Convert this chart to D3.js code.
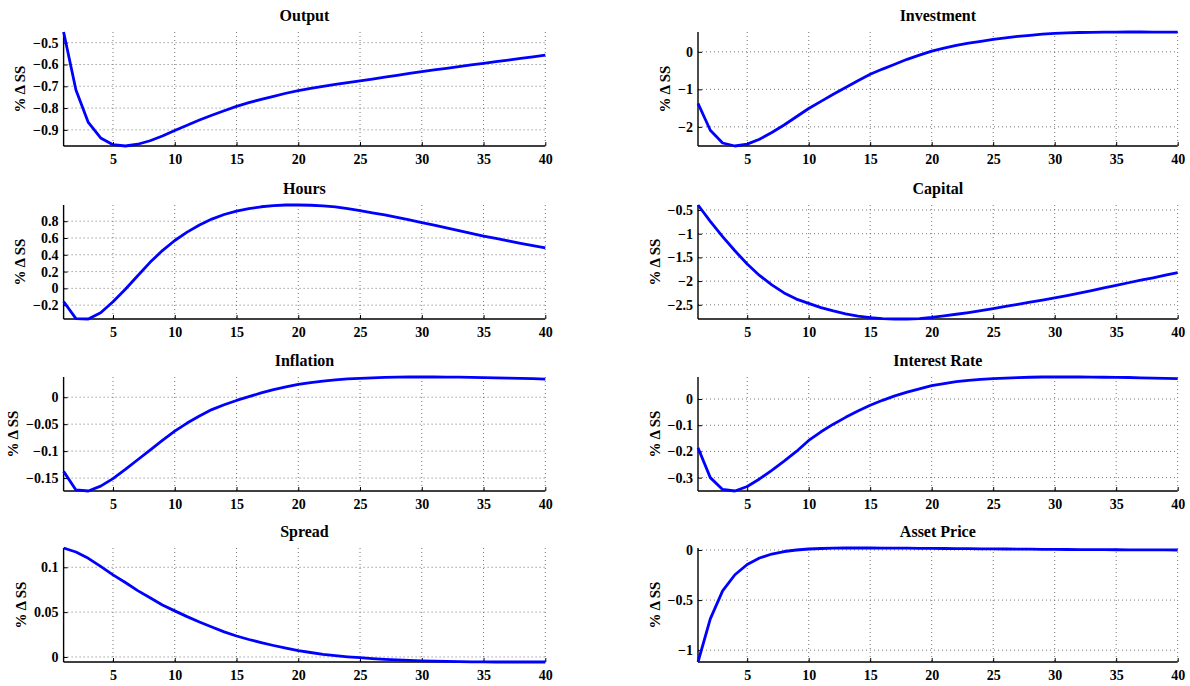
<!DOCTYPE html>
<html><head><meta charset="utf-8">
<script src="https://cdn.jsdelivr.net/npm/d3@7"></script>
<style>
body{margin:0;background:#fff;}
text{font-family:"Liberation Serif","Times New Roman",serif;font-weight:bold;fill:#000;}
</style></head>
<body><svg id="c" width="1190" height="686"></svg>
<script>
const periods = d3.range(1, 41);
const xTicks = [5, 10, 15, 20, 25, 30, 35, 40];

const output = [-0.451,-0.717,-0.866,-0.937,-0.968,-0.974,-0.966,-0.950,-0.928,-0.903,-0.879,-0.855,-0.833,-0.812,-0.792,-0.775,-0.760,-0.746,-0.732,-0.720,-0.710,-0.700,-0.691,-0.683,-0.675,-0.667,-0.658,-0.650,-0.641,-0.633,-0.625,-0.618,-0.610,-0.602,-0.595,-0.587,-0.580,-0.572,-0.565,-0.557];
const investment = [-1.375,-2.09,-2.43,-2.51,-2.46,-2.33,-2.15,-1.95,-1.73,-1.51,-1.32,-1.13,-0.95,-0.77,-0.60,-0.46,-0.33,-0.20,-0.09,0.02,0.10,0.17,0.23,0.28,0.33,0.37,0.41,0.44,0.47,0.49,0.505,0.515,0.52,0.525,0.527,0.528,0.528,0.527,0.527,0.526];
const hours = [-0.157,-0.36,-0.365,-0.29,-0.16,-0.01,0.15,0.31,0.45,0.57,0.67,0.755,0.825,0.88,0.92,0.95,0.972,0.986,0.993,0.993,0.99,0.983,0.97,0.95,0.925,0.90,0.874,0.845,0.815,0.784,0.752,0.72,0.687,0.655,0.623,0.594,0.565,0.537,0.51,0.483];
const capital = [-0.394,-0.74,-1.06,-1.36,-1.64,-1.88,-2.08,-2.25,-2.38,-2.47,-2.56,-2.63,-2.69,-2.74,-2.77,-2.79,-2.80,-2.80,-2.79,-2.766,-2.735,-2.70,-2.665,-2.625,-2.58,-2.535,-2.49,-2.445,-2.40,-2.355,-2.305,-2.255,-2.20,-2.145,-2.09,-2.035,-1.98,-1.93,-1.875,-1.82];
const inflation = [-0.1376,-0.172,-0.174,-0.165,-0.151,-0.134,-0.116,-0.098,-0.080,-0.063,-0.048,-0.035,-0.023,-0.014,-0.006,0.001,0.008,0.014,0.019,0.024,0.027,0.030,0.032,0.034,0.035,0.036,0.0368,0.0372,0.0375,0.0375,0.0375,0.0373,0.0371,0.0368,0.0364,0.036,0.0355,0.035,0.0343,0.0337];
const interestRate = [-0.186,-0.30,-0.345,-0.351,-0.334,-0.305,-0.272,-0.237,-0.20,-0.158,-0.125,-0.096,-0.07,-0.046,-0.024,-0.005,0.012,0.026,0.039,0.051,0.059,0.066,0.071,0.075,0.078,0.080,0.082,0.083,0.084,0.084,0.084,0.084,0.0835,0.083,0.0825,0.082,0.081,0.080,0.079,0.078];
const spread = [0.1215,0.117,0.110,0.101,0.0915,0.083,0.074,0.066,0.058,0.0514,0.045,0.039,0.0335,0.028,0.0234,0.0195,0.016,0.0128,0.0098,0.007,0.005,0.003,0.0015,0.0002,-0.0008,-0.0018,-0.0026,-0.0033,-0.0039,-0.0043,-0.0047,-0.005,-0.0052,-0.0054,-0.0055,-0.0056,-0.0056,-0.0056,-0.0056,-0.0056];
const assetPrice = [-1.118,-0.687,-0.408,-0.247,-0.145,-0.08,-0.04,-0.015,0.0,0.01,0.015,0.018,0.02,0.02,0.02,0.019,0.019,0.018,0.017,0.016,0.015,0.014,0.013,0.012,0.011,0.01,0.009,0.008,0.007,0.006,0.005,0.004,0.0035,0.003,0.0025,0.002,0.0015,0.001,0.0005,0.0];

const titles = ["Output","Investment","Hours","Capital","Inflation","Interest Rate","Spread","Asset Price"];
const seriesList = [output, investment, hours, capital, inflation, interestRate, spread, assetPrice];
const yTickSets = [
  [-0.9,-0.8,-0.7,-0.6,-0.5],
  [-2,-1,0],
  [-0.2,0,0.2,0.4,0.6,0.8],
  [-2.5,-2,-1.5,-1,-0.5],
  [-0.15,-0.1,-0.05,0],
  [-0.3,-0.2,-0.1,0],
  [0,0.05,0.1],
  [-1,-0.5,0]
];
const yLabel = "% \u0394 SS";

const svg = d3.select("#c");
const colX = [[63.6, 545.3], [698, 1177.7]];
const rowTop = [32, 205, 377, 548];
const plotH = 114;

const fmt = v => {
  let s = String(+v.toFixed(4));
  return s.replace("-", "\u2212");
};

seriesList.forEach((vals, i) => {
  const col = i % 2, row = Math.floor(i / 2);
  const [x0, x1] = colX[col];
  const top = rowTop[row], bot = top + plotH;
  const x = d3.scaleLinear().domain([1, 40]).range([x0, x1]);
  const y = d3.scaleLinear().domain(d3.extent(vals)).range([bot, top]);
  const g = svg.append("g");

  // grid
  g.append("g").selectAll("line").data(xTicks).join("line")
    .attr("x1", d => x(d)).attr("x2", d => x(d)).attr("y1", top).attr("y2", bot)
    .attr("stroke", "#666").attr("stroke-width", 0.9).attr("stroke-dasharray", "1,3");
  g.append("g").selectAll("line").data(yTickSets[i]).join("line")
    .attr("x1", x0).attr("x2", x1).attr("y1", d => y(d)).attr("y2", d => y(d))
    .attr("stroke", "#666").attr("stroke-width", 0.9).attr("stroke-dasharray", "1,3");

  // axes
  const xa = g.append("g").attr("transform", `translate(0,${bot})`)
    .call(d3.axisBottom(x).tickValues(xTicks).tickSize(-4).tickPadding(8).tickFormat(d3.format("d")));
  const ya = g.append("g").attr("transform", `translate(${x0},0)`)
    .call(d3.axisLeft(y).tickValues(yTickSets[i]).tickSize(-4).tickPadding(5).tickFormat(fmt));
  [xa, ya].forEach(a => {
    a.select(".domain").attr("stroke", "#000").attr("stroke-width", 1.4);
    a.selectAll(".tick line").attr("stroke", "#000").attr("stroke-width", 1);
    a.selectAll("text").style("font-size", "14px").style("font-family", "'Liberation Serif',serif").style("font-weight", "bold");
  });
  xa.select(".domain").attr("d", `M${x0},0H${x1}`);
  ya.select(".domain").attr("d", `M0,${top}V${bot}`);

  // line
  g.append("path").datum(vals)
    .attr("d", d3.line().x((d, k) => x(periods[k])).y(d => y(d)))
    .attr("fill", "none").attr("stroke", "#0000ff").attr("stroke-width", 2.8)
    .attr("stroke-linejoin", "round");

  // title
  g.append("text").attr("x", (x0 + x1) / 2).attr("y", top - 11)
    .attr("text-anchor", "middle").style("font-size", "16px").text(titles[i]);

  // y label
  const bb = ya.node().getBBox();
  const lx = x0 + bb.x - 8;
  g.append("text").attr("transform", `translate(${lx},${(top + bot) / 2}) rotate(-90)`)
    .attr("text-anchor", "middle").style("font-size", "15px").text(yLabel);
});
</script></body></html>
